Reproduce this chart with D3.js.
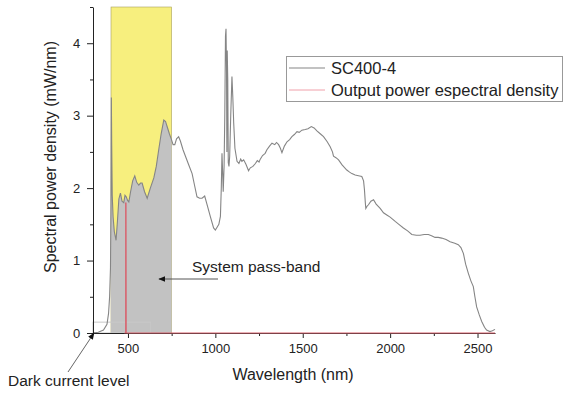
<!DOCTYPE html>
<html>
<head>
<meta charset="utf-8">
<script src="https://cdn.jsdelivr.net/npm/d3@7"></script>
<style>
  body { margin: 0; background: #fff; }
  svg { font-family: "Liberation Sans", Arial, sans-serif; }
</style>
</head>
<body>
<div id="chart"></div>
<script>
// SC400-4 spectrum (nm, mW/nm)
const wavelengths = [300, 330, 360, 380, 389, 395, 400, 403, 405, 407, 410, 415, 422, 432, 440, 448, 457, 466, 476, 483,
  490, 498, 505, 515, 527, 539, 550, 562, 572, 581, 595, 610, 628, 648, 662, 676, 690, 705, 715, 724,
  737, 749, 758, 768, 778, 790, 800, 815, 829, 848, 867, 880, 895, 910, 924, 939, 955, 971, 990, 1000,
  1010, 1020, 1029, 1034, 1038, 1042, 1045, 1050, 1054, 1058, 1061, 1064, 1066, 1068, 1071, 1074, 1078, 1082, 1088, 1095,
  1100, 1105, 1112, 1124, 1135, 1145, 1152, 1162, 1175, 1190, 1200, 1215, 1229, 1240, 1250, 1257, 1270, 1285, 1295, 1310,
  1324, 1340, 1350, 1362, 1372, 1381, 1395, 1410, 1425, 1438, 1452, 1467, 1480, 1495, 1514, 1530, 1549, 1565, 1581, 1600,
  1619, 1640, 1657, 1670, 1676, 1690, 1705, 1725, 1752, 1768, 1781, 1800, 1819, 1838, 1848, 1853, 1858, 1861, 1868, 1876,
  1890, 1905, 1920, 1943, 1962, 1981, 2000, 2029, 2050, 2076, 2100, 2124, 2150, 2171, 2195, 2219, 2240, 2257, 2275, 2295,
  2320, 2343, 2370, 2390, 2405, 2419, 2432, 2448, 2462, 2476, 2485, 2495, 2510, 2524, 2540, 2552, 2571, 2585, 2600];
const sc400 = [0.0, 0.01, 0.04, 0.12, 0.27, 0.5, 0.9, 1.8, 3.25, 2.6, 1.9, 1.6, 1.4, 1.28, 1.55, 1.85, 1.93, 1.82, 1.8, 1.9,
  1.88, 1.83, 1.81, 1.95, 2.1, 2.17, 2.08, 2.04, 2.07, 2.07, 1.95, 1.86, 2.0, 2.14, 2.3, 2.53, 2.75, 2.94, 2.92, 2.85,
  2.75, 2.67, 2.6, 2.6, 2.68, 2.71, 2.65, 2.53, 2.44, 2.32, 2.2, 2.05, 1.88, 1.86, 1.86, 1.89, 1.75, 1.61, 1.45, 1.42,
  1.46, 1.5, 1.61, 2.0, 2.48, 2.2, 1.95, 2.3, 3.0, 4.1, 4.2, 3.6, 2.5, 3.9, 3.5, 2.35, 2.3, 2.44, 3.0, 3.54,
  3.25, 2.9, 2.55, 2.37, 2.34, 2.4, 2.37, 2.39, 2.33, 2.24, 2.28, 2.3, 2.34, 2.38, 2.36, 2.4, 2.45, 2.48, 2.53, 2.58,
  2.62, 2.6, 2.63, 2.6, 2.55, 2.49, 2.58, 2.64, 2.67, 2.71, 2.74, 2.78, 2.77, 2.8, 2.81, 2.82, 2.85, 2.83, 2.79, 2.75,
  2.71, 2.64, 2.57, 2.5, 2.44, 2.42, 2.39, 2.32, 2.25, 2.22, 2.2, 2.18, 2.17, 2.16, 2.1, 1.98, 1.8, 1.72, 1.75, 1.77,
  1.82, 1.84, 1.78, 1.72, 1.66, 1.63, 1.6, 1.54, 1.5, 1.45, 1.41, 1.36, 1.35, 1.35, 1.36, 1.36, 1.34, 1.32, 1.32, 1.31,
  1.29, 1.26, 1.24, 1.22, 1.18, 1.1, 0.95, 0.82, 0.72, 0.64, 0.5, 0.36, 0.25, 0.16, 0.08, 0.04, 0.02, 0.03, 0.05];

// output power spectral density (zero except one narrow line)
const outWavelengths = [480, 487, 488, 490, 2600];
const outPower = [0, 0, 1.8, 0, 0];

const passBand = [403, 750];          // nm
const darkBox = [300, 630, 0.15];     // nm from, nm to, level
const xMajor = [500, 1000, 1500, 2000, 2500];
const xMinor = [750, 1250, 1750, 2250];
const yMajor = [0, 1, 2, 3, 4];
const yMinor = [0.5, 1.5, 2.5, 3.5, 4.5];
const legendLabels = ['SC400-4', 'Output power espectral density'];

const width = 566;
const height = 394;

const svg = d3.select('#chart').append('svg')
  .attr('width', width)
  .attr('height', height);

const x = d3.scaleLinear().domain([300, 2600]).range([93, 495]);
const y = d3.scaleLinear().domain([0, 4.5]).range([333, 7]);

const scData = wavelengths.map((w, i) => [w, sc400[i]]);
const outData = outWavelengths.map((w, i) => [w, outPower[i]]);

// pass-band: yellow background, grey area under the curve
svg.append('rect')
  .attr('x', x(passBand[0]))
  .attr('y', y(4.5))
  .attr('width', x(passBand[1]) - x(passBand[0]))
  .attr('height', y(0) - y(4.5))
  .attr('fill', '#f7ef7e')
  .attr('stroke', '#a8a060')
  .attr('stroke-width', 0.6);

svg.append('clipPath').attr('id', 'band')
  .append('rect')
  .attr('x', x(passBand[0]))
  .attr('y', y(4.5))
  .attr('width', x(passBand[1]) - x(passBand[0]))
  .attr('height', y(0) - y(4.5));

svg.append('path')
  .datum(scData)
  .attr('clip-path', 'url(#band)')
  .attr('fill', '#c2c2c2')
  .attr('d', d3.area().x((d) => x(d[0])).y0(y(0)).y1((d) => y(d[1])));

// dark current box
svg.append('rect')
  .attr('x', x(darkBox[0]))
  .attr('y', y(darkBox[2]))
  .attr('width', x(darkBox[1]) - x(darkBox[0]))
  .attr('height', y(0) - y(darkBox[2]))
  .attr('fill', 'none')
  .attr('stroke', '#c8c8c8')
  .attr('stroke-width', 1);

const line = d3.line().x((d) => x(d[0])).y((d) => y(d[1]));

svg.append('path')
  .datum(scData)
  .attr('fill', 'none')
  .attr('stroke', '#858585')
  .attr('stroke-width', 1.1)
  .attr('d', line);

// axes
function xAxis(g) {
  g.attr('transform', `translate(0,${y(0)})`);
  g.call(d3.axisBottom(x).tickValues(xMajor).tickSize(5).tickSizeOuter(0).tickFormat(d3.format('d')));
  g.append('g').call(d3.axisBottom(x).tickValues(xMinor).tickSize(3).tickSizeOuter(0).tickFormat(''))
    .select('.domain').remove();
  g.selectAll('text').attr('font-size', '13px').attr('fill', '#222').attr('dy', '0.9em');
  g.selectAll('line, path').attr('stroke', '#222');
}
function yAxis(g) {
  g.attr('transform', `translate(${x(300)},0)`);
  g.call(d3.axisLeft(y).tickValues(yMajor).tickSize(6).tickSizeOuter(0).tickFormat(d3.format('d')));
  g.append('g').call(d3.axisLeft(y).tickValues(yMinor).tickSize(3).tickSizeOuter(0).tickFormat(''))
    .select('.domain').remove();
  g.selectAll('text').attr('font-size', '13px').attr('fill', '#222').attr('dx', '-0.3em');
  g.selectAll('line, path').attr('stroke', '#222');
}
svg.append('g').call(xAxis);
svg.append('g').call(yAxis);

// output line drawn over the axis
svg.append('path')
  .datum(outData)
  .attr('fill', 'none')
  .attr('stroke', '#d9606c')
  .attr('stroke-width', 1)
  .attr('d', line);

// axis titles
svg.append('text')
  .attr('transform', 'translate(56,157) rotate(-90)')
  .attr('text-anchor', 'middle')
  .attr('font-size', '16px')
  .attr('fill', '#222')
  .text('Spectral power density (mW/nm)');

svg.append('text')
  .attr('x', 293)
  .attr('y', 380)
  .attr('text-anchor', 'middle')
  .attr('font-size', '16px')
  .attr('fill', '#222')
  .text('Wavelength (nm)');

// arrows
svg.append('defs').append('marker')
  .attr('id', 'arrow')
  .attr('viewBox', '0 0 10 10')
  .attr('refX', 9).attr('refY', 5)
  .attr('markerWidth', 7).attr('markerHeight', 7)
  .attr('orient', 'auto')
  .append('path')
  .attr('d', 'M0,1 L10,5 L0,9 Z')
  .attr('fill', '#111');

svg.append('line')
  .attr('x1', 218).attr('y1', 279)
  .attr('x2', 159).attr('y2', 279)
  .attr('stroke', '#555')
  .attr('stroke-width', 1)
  .attr('marker-end', 'url(#arrow)');

svg.append('text')
  .attr('x', 192).attr('y', 272)
  .attr('font-size', '15.5px')
  .attr('fill', '#222')
  .text('System pass-band');

svg.append('line')
  .attr('x1', 68).attr('y1', 372)
  .attr('x2', 94).attr('y2', 333)
  .attr('stroke', '#666')
  .attr('stroke-width', 1)
  .attr('marker-end', 'url(#arrow)');

svg.append('text')
  .attr('x', 8).attr('y', 386)
  .attr('font-size', '15.5px')
  .attr('fill', '#222')
  .text('Dark current level');

// legend
const legend = svg.append('g');
legend.append('rect')
  .attr('x', 286.5).attr('y', 56.5)
  .attr('width', 276).attr('height', 45)
  .attr('fill', '#fff')
  .attr('stroke', '#999');
const legendColors = ['#858585', '#f0a0aa'];
legendLabels.forEach((label, i) => {
  const ly = 68 + i * 22;
  legend.append('line')
    .attr('x1', 289).attr('x2', 325)
    .attr('y1', ly).attr('y2', ly)
    .attr('stroke', legendColors[i])
    .attr('stroke-width', 1);
  legend.append('text')
    .attr('x', 331).attr('y', ly + 6)
    .attr('font-size', '16.5px')
    .attr('fill', '#222')
    .text(label);
});
</script>
</body>
</html>
